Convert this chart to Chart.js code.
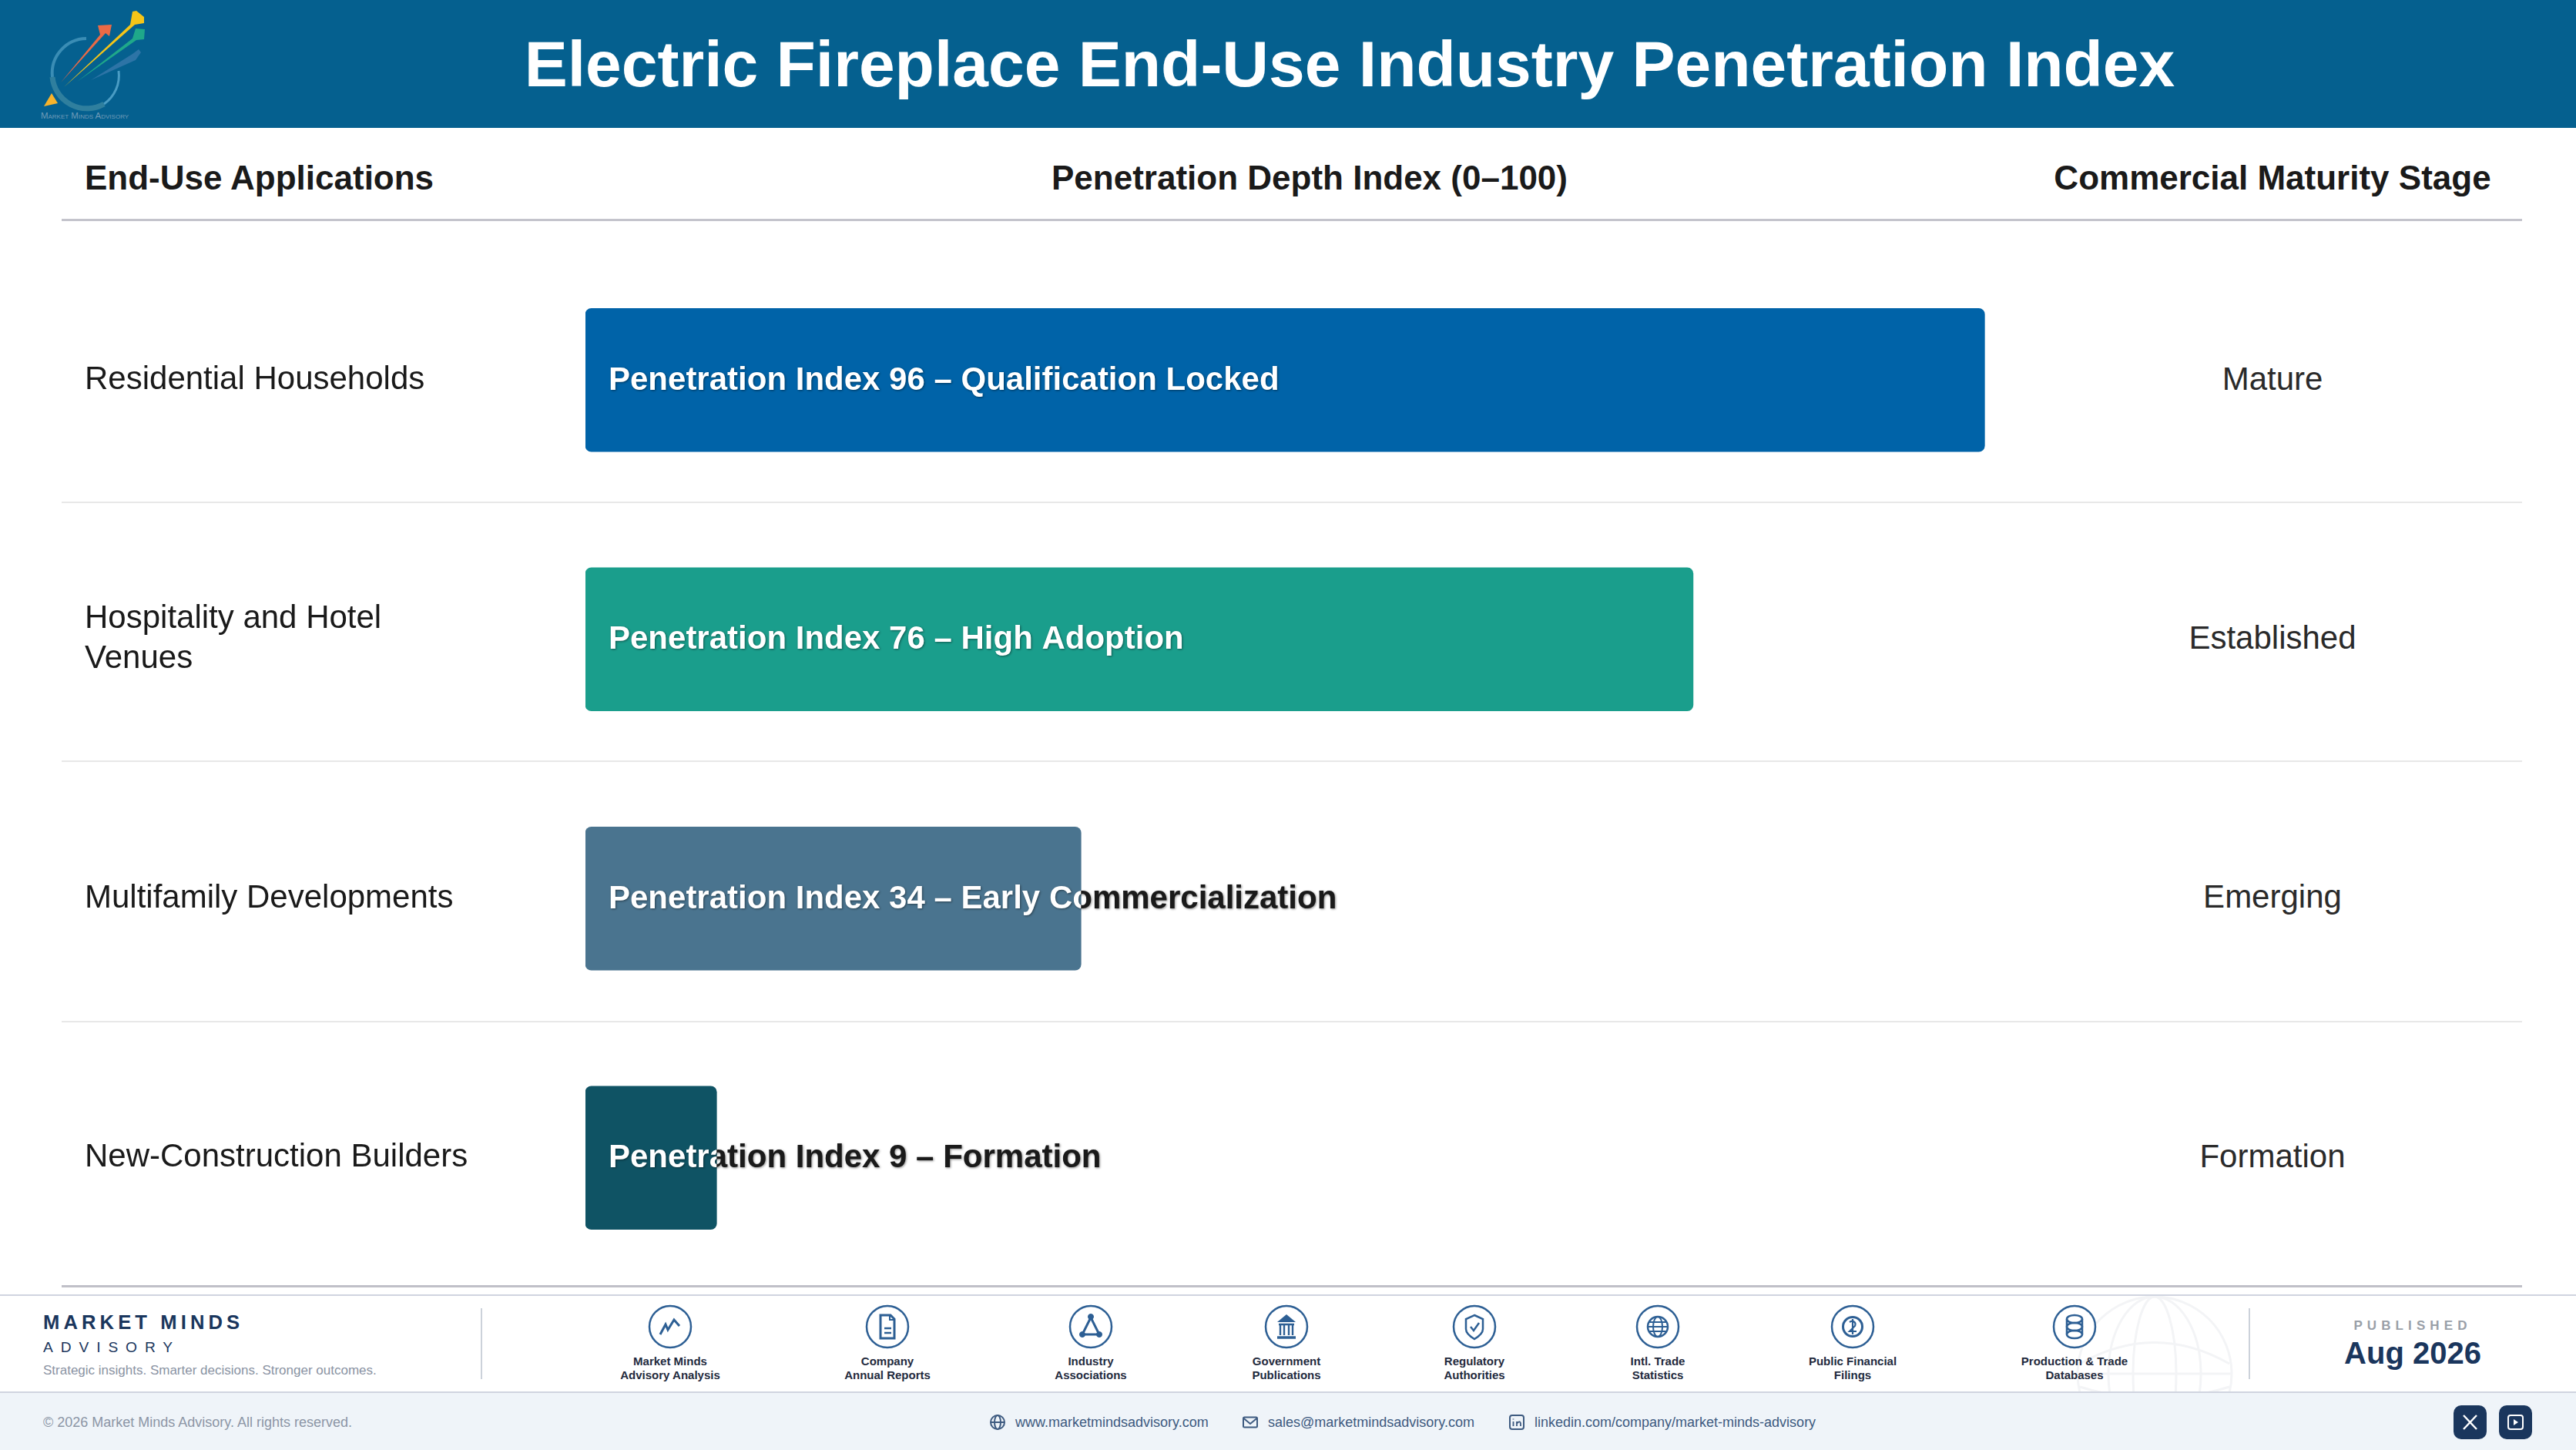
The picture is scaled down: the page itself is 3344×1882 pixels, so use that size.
<!DOCTYPE html>
<html><head><meta charset="utf-8">
<script src="https://cdn.jsdelivr.net/npm/chart.js@4"></script>
<style>
html,body{margin:0;padding:0;background:#fff;width:3344px;height:1882px;overflow:hidden;font-family:"Liberation Sans",Arial,sans-serif}
.a{position:absolute}
.t{position:absolute;white-space:nowrap;line-height:1}
.c{transform:translate(-50%,-50%)}
.l{transform:translateY(-50%)}
svg{position:absolute;left:0;top:0}
</style></head><body>
<script>
const titleText = "Electric Fireplace End-Use Industry Penetration Index";
const columnHeads = ["End-Use Applications", "Penetration Depth Index (0–100)", "Commercial Maturity Stage"];
const categories = [["Residential Households"], ["Hospitality and Hotel", "Venues"], ["Multifamily Developments"], ["New-Construction Builders"]];
const penetration = [96, 76, 34, 9];
const phases = ["Qualification Locked", "High Adoption", "Early Commercialization", "Formation"];
const stages = ["Mature", "Established", "Emerging", "Formation"];
const barColors = ["#0063a8", "#1a9e8c", "#4a748f", "#0f5364"];
const sources = [["Market Minds","Advisory Analysis"],["Company","Annual Reports"],["Industry","Associations"],["Government","Publications"],["Regulatory","Authorities"],["Intl. Trade","Statistics"],["Public Financial","Filings"],["Production & Trade","Databases"]];
const sourceX = [870,1152,1416,1670,1914,2152,2405,2693];
const icons = [
 '<path d="M-13 10 L-6 -3 L-3 4 L5 -9 L12 -1" fill="none" stroke-width="3"/>',
 '<path d="M-9 -15 H4 L9 -10 V15 H-9 Z" fill="none" stroke-width="3"/><path d="M-4 2 H5 M-4 8 H5" stroke-width="2.5"/><path d="M3 -15 V-9 H9" fill="none" stroke-width="2"/>',
 '<path d="M0 -12 L-11 10 H11 Z" fill="none" stroke-width="3"/><circle cx="0" cy="-13" r="3.5" fill="#2d5f94"/><circle cx="-11" cy="10" r="3.5" fill="#2d5f94"/><circle cx="11" cy="10" r="3.5" fill="#2d5f94"/>',
 '<path d="M0 -16 L12 -6 H-12 Z" fill="#2d5f94" stroke="none"/><path d="M-10 -3 H10 M-8 -3 V11 M-3 -3 V11 M3 -3 V11 M8 -3 V11" stroke-width="2.4"/><path d="M-12 14 H12" stroke-width="3.5"/>',
 '<path d="M0 -15 L11 -10 V3 C11 9 5 13 0 16 C-5 13 -11 9 -11 3 V-10 Z" fill="none" stroke-width="2.5"/><path d="M-5 0 L-1 5 L6 -5" fill="none" stroke-width="2.5"/>',
 '<circle r="13" fill="none" stroke-width="2.5"/><ellipse rx="6" ry="13" fill="none" stroke-width="2"/><path d="M-13 0 H13 M-11 -6 H11 M-11 6 H11" stroke-width="1.8"/>',
 '<circle r="12.5" fill="none" stroke-width="3"/><path d="M-4 -6 C0 -9 5 -6 3 -1 L-4 6 H5 M0 -10 V10" fill="none" stroke-width="2.2"/>',
 '<ellipse cy="-10" rx="10" ry="5" fill="none" stroke-width="2.5"/><ellipse cy="0" rx="10" ry="5" fill="none" stroke-width="2.5"/><ellipse cy="10" rx="10" ry="5" fill="none" stroke-width="2.5"/><path d="M-10 -10 V10 M10 -10 V10" stroke-width="2.5"/>'
];
const contacts = [["www.marketmindsadvisory.com",1318],["sales@marketmindsadvisory.com",1646],["linkedin.com/company/market-minds-advisory",1992]];

function text(str, x, y, size, color, opt){
  opt = opt || {};
  const d = document.createElement('div');
  d.className = 't ' + (opt.cls || 'l');
  d.textContent = str;
  d.style.cssText = `left:${x}px;top:${y}px;font-size:${size}px;color:${color};font-weight:${opt.w||400};letter-spacing:${opt.ls||0}px;font-variant:${opt.v||'normal'}`;
  document.body.appendChild(d);
}
function box(x, y, w, h, color){
  const d = document.createElement('div');
  d.className = 'a';
  d.style.cssText = `left:${x}px;top:${y}px;width:${w}px;height:${h}px;background:${color}`;
  document.body.appendChild(d);
}

// Bands and rules
box(0,0,3344,166,'#05608f');
box(80,284,3194,3,'#c4c4cc');
[651,987,1325].forEach(y=>box(80,y,3194,2,'#e8e8e8'));
box(80,1668,3194,3,'#c0c0c8');
box(0,1680,3344,2,'#d0d4e0');
box(0,1806,3344,2,'#d0d4e0');
box(0,1808,3344,74,'#eff4f9');
box(624,1698,2,92,'#ccd2da');
box(2919,1698,2,92,'#ccd2da');

// Decorative vector layer
const iconSvg = sourceX.map((x,i)=>`<g transform="translate(${x} 1722)" stroke="#2d5f94"><circle r="27" fill="#fff" stroke-width="2.5"/><g>${icons[i]}</g></g>`).join('');
const svgHtml = `<svg width="3344" height="1882" viewBox="0 0 3344 1882">
<defs><clipPath id="fc"><rect x="2500" y="1682" width="500" height="124"/></clipPath></defs>
<g clip-path="url(#fc)" fill="none" stroke="#f3f4f6" stroke-width="3">
<circle cx="2797" cy="1783" r="100"/><ellipse cx="2797" cy="1783" rx="60" ry="100"/><ellipse cx="2797" cy="1783" rx="28" ry="100"/>
<path d="M2697 1783 H2897"/><path d="M2700 1770 Q2797 1715 2894 1770"/><path d="M2700 1800 Q2797 1830 2894 1800"/>
</g>
<g>
<path d="M112 50 A45 45 0 0 0 68 100" fill="none" stroke="#3a8db5" stroke-width="4"/>
<path d="M68 100 A45 45 0 0 0 135 135" fill="none" stroke="#2f7f9e" stroke-width="7"/>
<path d="M135 135 A45 45 0 0 0 154 92" fill="none" stroke="#4a9cc4" stroke-width="3"/>
<path d="M79 107 L130 45 L127 33 L145 32 L142 47 L137 43 Z" fill="#ea6a46"/>
<path d="M83 113 L169 32 L172 15 L177 14 L187 22 L187 30 L175 32 Z" fill="#f5c518"/>
<path d="M100 106 L172 50 L176 37 L188 38 L187 51 L177 52 Z" fill="#1fa88a"/>
<path d="M118 104 L172 70 L180 64 L183 68 L176 78 Z" fill="#2d74a6"/>
<path d="M67 121 L75 134 L57 138 Z" fill="#f7b32b"/>
</g>
<g>
<g transform="translate(1295 1846)" fill="none" stroke="#3d5a80" stroke-width="2"><circle r="9"/><ellipse rx="4" ry="9"/><path d="M-9 0 H9"/></g>
<g transform="translate(1623 1846)" fill="none" stroke="#3d5a80" stroke-width="2"><rect x="-9" y="-6.5" width="18" height="13" rx="1.5"/><path d="M-9 -5.5 L0 2 L9 -5.5"/></g>
<g transform="translate(1969 1846)" fill="none" stroke="#3d5a80" stroke-width="2"><rect x="-9" y="-9" width="18" height="18" rx="3"/><path d="M-4.5 -1 V5 M-4.5 -4.5 V-3.5 M0 5 V-1 M0 1.5 Q4.5 -3 5 2 V5" stroke-width="1.8"/></g>
</g>
${iconSvg}
<rect x="3185" y="1824" width="43" height="44" rx="10" fill="#1a365d"/>
<path d="M3198 1837 L3215 1855 M3215 1837 L3198 1855" stroke="#fff" stroke-width="2.5"/>
<rect x="3244" y="1824" width="43" height="44" rx="10" fill="#1a365d"/>
<rect x="3256" y="1837" width="19" height="18" rx="3" fill="none" stroke="#fff" stroke-width="2"/>
<path d="M3263 1842 L3269 1846 L3263 1850 Z" fill="#fff"/>
</svg>`;
document.body.insertAdjacentHTML('beforeend', svgHtml);

// Text outside the plot
text(titleText, 1752, 83, 84, '#fff', {cls:'c', w:700});
text(columnHeads[0], 110, 231, 44, '#1a1a1a', {w:700});
text(columnHeads[1], 1700, 231, 44, '#1a1a1a', {cls:'c', w:700});
text(columnHeads[2], 2950, 231, 44, '#1a1a1a', {cls:'c', w:700});
const rowY = [492, 828, 1164, 1501];
stages.forEach((s,i)=>text(s, 2950, rowY[i], 42, '#2a2a2a', {cls:'c'}));
text("MARKET MINDS", 56, 1717, 25.6, '#1a365d', {w:700, ls:5.1});
text("ADVISORY", 56, 1749, 19.2, '#1a365d', {ls:9.9});
text("Strategic insights. Smarter decisions. Stronger outcomes.", 56, 1778, 17, '#8a93a3');
text("© 2026 Market Minds Advisory. All rights reserved.", 56, 1846, 18, '#8c96a6');
sources.forEach((s,i)=>{
  text(s[0], sourceX[i], 1766, 15, '#1f2a3d', {cls:'c', w:700});
  text(s[1], sourceX[i], 1784, 15, '#1f2a3d', {cls:'c', w:700});
});
text("PUBLISHED", 3132, 1720, 17, '#9aa0a8', {cls:'c', w:700, ls:6.1});
text("Aug 2026", 3132, 1756, 40, '#1a365d', {cls:'c', w:700});
contacts.forEach(c=>text(c[0], c[1], 1846, 18, '#3d5a80'));
text("Market Minds Advisory", 110, 151, 11.5, '#6f9bb8', {cls:'c', v:'small-caps'});

// Chart
const canvas = document.createElement('canvas');
canvas.width = 2542; canvas.height = 1346;
canvas.style.cssText = 'position:absolute;left:110px;top:325px;width:2542px;height:1346px';
document.body.appendChild(canvas);

const barLabelPlugin = {
  id:'barLabels',
  afterDatasetsDraw(chart){
    const ctx = chart.ctx;
    chart.getDatasetMeta(0).data.forEach((el,i)=>{
      const g = ctx.createLinearGradient(el.x-0.5,0,el.x+0.5,0);
      g.addColorStop(0,'#ffffff'); g.addColorStop(1,'#1a1a1a');
      ctx.save();
      ctx.font = '700 42px "Liberation Sans"';
      ctx.textAlign='left'; ctx.textBaseline='middle';
      ctx.fillStyle = g;
      ctx.shadowColor='rgba(0,0,0,.45)'; ctx.shadowBlur=3; ctx.shadowOffsetX=1; ctx.shadowOffsetY=1;
      ctx.fillText(`Penetration Index ${penetration[i]} – ${phases[i]}`, el.base+30, el.y+1);
      ctx.restore();
    });
  }
};

new Chart(canvas, {
  type:'bar',
  data:{labels:categories, datasets:[{data:penetration, backgroundColor:barColors, borderRadius:8, borderSkipped:false, barThickness:186}]},
  options:{
    indexAxis:'y', responsive:false, animation:false, devicePixelRatio:1,
    layout:{padding:0},
    plugins:{legend:{display:false}, tooltip:{enabled:false}, title:{display:false}},
    scales:{
      x:{display:false, min:0, max:100},
      y:{type:'category', offset:true, grid:{display:false}, border:{display:false},
         ticks:{crossAlign:'far', padding:0, autoSkip:false, color:'#1a1a1a', font:{family:'"Liberation Sans"', size:42, lineHeight:1.23}},
         afterFit(s){s.width=650; s.paddingTop=0; s.paddingBottom=0;}}
    }
  },
  plugins:[barLabelPlugin]
});
</script>
</body></html>
